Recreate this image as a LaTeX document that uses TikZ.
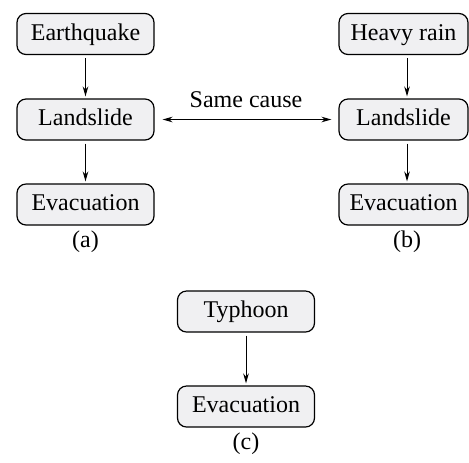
\documentclass[tikz,border=0pt]{standalone}
\usepackage{fontspec}
\setmainfont{Liberation Serif}
\usetikzlibrary{arrows.meta}
\definecolor{boxgray}{RGB}{240,240,242}
\tikzset{
    evbox/.style={draw, line width=0.6pt, rounded corners=4.5pt, fill=boxgray,
        minimum width=68.5pt, minimum height=20.5pt, inner sep=0pt,
        text height=8.5pt, text depth=2.5pt},
    evarrow/.style={-{Stealth[length=5pt,width=2.8pt]}, line width=0.5pt},
}

\begin{document}
\begin{tikzpicture}[x=0.5pt,y=-0.5pt,font=\fontsize{12}{14}\selectfont]
    \useasboundingbox (0,0) rectangle (469,462);
    % (a)
    \node[evbox] (quake) at (85.5,34) {Earthquake};
    \node[evbox] (slideA) at (85.5,119.5) {Landslide};
    \node[evbox] (evacA) at (85.5,204.5) {Evacuation};
    \node (capA) at (85.5,242) {(a)};
    % (b)
    \node[evbox,minimum width=64.5pt] (rain) at (403.5,34) {Heavy rain};
    \node[evbox,minimum width=64.5pt] (slideB) at (403.5,119.5) {Landslide};
    \node[evbox,minimum width=64.5pt] (evacB) at (403.5,204.5) {Evacuation};
    \node (capB) at (407,242) {(b)};
    % (c)
    \node[evbox] (typhoon) at (246,311.5) {Typhoon};
    \node[evbox] (evacC) at (246,406.5) {Evacuation};
    \node (capC) at (246,444) {(c)};
    % arrows
    \draw[evarrow,shorten <=1.5pt,shorten >=1pt] (quake) -- (slideA);
    \draw[evarrow,shorten <=1.5pt,shorten >=1pt] (slideA) -- (evacA);
    \draw[evarrow,shorten <=1.5pt,shorten >=1pt] (rain.south -| 407,0) -- (slideB.north -| 407,0);
    \draw[evarrow,shorten <=1.5pt,shorten >=1pt] (slideB.south -| 407,0) -- (evacB.north -| 407,0);
    \draw[evarrow,shorten <=1.5pt,shorten >=1pt] (typhoon) -- (evacC);
    \draw[line width=0.5pt,{Stealth[length=5pt,width=2.8pt]}-{Stealth[length=5pt,width=2.8pt]},
        shorten <=4pt,shorten >=3.5pt] (slideA) -- (slideB);
    \node (cause) at (246,100) {Same cause};
\end{tikzpicture}
\end{document}
